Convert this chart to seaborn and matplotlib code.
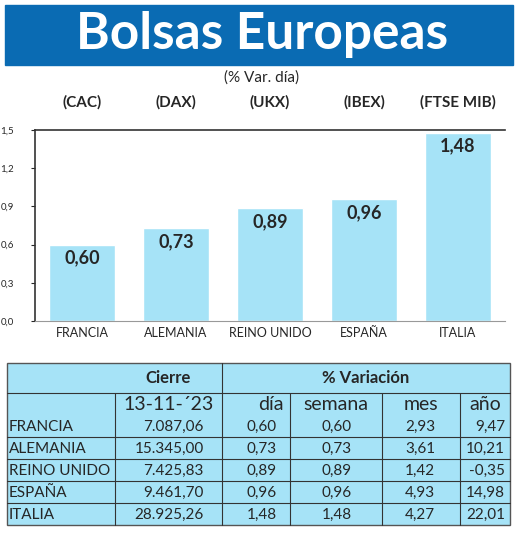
import matplotlib
matplotlib.use("Agg")
import matplotlib.pyplot as plt
import seaborn as sns
import pandas as pd
from matplotlib.patches import Rectangle

# datos
paises = ["FRANCIA", "ALEMANIA", "REINO UNIDO", "ESPAÑA", "ITALIA"]
indices = ["(CAC)", "(DAX)", "(UKX)", "(IBEX)", "(FTSE MIB)"]
var_dia = [0.60, 0.73, 0.89, 0.96, 1.48]
cierre = ["7.087,06", "15.345,00", "7.425,83", "9.461,70", "28.925,26"]
var_semana = ["0,60", "0,73", "0,89", "0,96", "1,48"]
var_mes = ["2,93", "3,61", "1,42", "4,93", "4,27"]
var_anio = ["9,47", "10,21", "-0,35", "14,98", "22,01"]

sns.set_style("white")
plt.rcParams["font.family"] = ["Lato", "DejaVu Sans"]

W, H = 520, 546
fig = plt.figure(figsize=(W / 100, H / 100), dpi=100)

def fx(px):
    return px / W

def fy(py):
    return 1 - py / H

# cabecera
fig.patches.append(Rectangle((fx(5), fy(65)), fx(508), 60 / H, transform=fig.transFigure,
                             color="#0a6bb3", zorder=0))
fig.text(fx(262), fy(35), "Bolsas Europeas", color="white", fontsize=37, fontweight="bold",
         ha="center", va="center")
fig.text(fx(262), fy(78), "(% Var. día)", fontsize=11, ha="center", va="center")

# gráfico
ax = fig.add_axes([fx(35), fy(321), fx(470), 191 / H])
df = pd.DataFrame({"pais": paises, "valor": var_dia})
sns.barplot(data=df, x="pais", y="valor", color="#a6e3f7", width=0.7, saturation=1, ax=ax)
for i, v in enumerate(var_dia):
    ax.text(i, v - 0.04, f"{v:.2f}".replace(".", ","), ha="center", va="top",
            fontsize=13, fontweight="bold")
    ax.text(i, 1.72, indices[i], ha="center", va="center", fontsize=11, fontweight="bold")
ax.set_ylim(0, 1.5)
ax.set_yticks([0, 0.3, 0.6, 0.9, 1.2, 1.5])
ax.set_yticklabels(["0,0", "0,3", "0,6", "0,9", "1,2", "1,5"], fontsize=7)
ax.set_xlabel("")
ax.set_ylabel("")
ax.tick_params(axis="x", labelsize=9, length=0, pad=4)
ax.tick_params(axis="y", length=3, left=True, pad=12)
for s in ["left", "top"]:
    ax.spines[s].set_color("#333333")
    ax.spines[s].set_linewidth(1.2)
ax.spines["right"].set_visible(False)
ax.spines["bottom"].set_color("#999999")

# tabla
x0, x1 = 7, 510
cols = [7, 115, 222, 290, 382, 460, 510]
rows = [363, 393, 415, 437, 459, 481, 503, 525]
fig.patches.append(Rectangle((fx(x0), fy(525)), fx(x1 - x0), (525 - 363) / H,
                             transform=fig.transFigure, facecolor="#a6e3f7",
                             edgecolor="#555555", lw=1))
def hline(y, a, b, c="#333333"):
    fig.add_artist(plt.Line2D([fx(a), fx(b)], [fy(y), fy(y)], color=c, lw=0.8))
def vline(x, a, b):
    fig.add_artist(plt.Line2D([fx(x), fx(x)], [fy(a), fy(b)], color="#333333", lw=0.8))
hline(393, x0, x1)
for y in rows[3:-1]:
    hline(y, x0, x1)
vline(222, 363, 525)
vline(115, 393, 525)
for c in cols[3:-1]:
    vline(c, 393, 525)

fig.text(fx(168), fy(378), "Cierre", fontsize=12, fontweight="bold", ha="center", va="center")
fig.text(fx(366), fy(378), "% Variación", fontsize=12, fontweight="bold", ha="center", va="center")
fig.text(fx(cols[2] - 8), fy(405), "13-11-´23", fontsize=14, ha="right", va="center")
fig.text(fx(cols[3] - 6), fy(405), "día", fontsize=14, ha="right", va="center")
for j, h in enumerate(["semana", "mes", "año"]):
    fig.text(fx((cols[j + 3] + cols[j + 4]) / 2), fy(405), h, fontsize=14, ha="center", va="center")
for i in range(5):
    yc = (rows[i + 2] + rows[i + 3]) / 2 + 1
    vals = [cierre[i], f"{var_dia[i]:.2f}".replace(".", ","), var_semana[i], var_mes[i], var_anio[i]]
    fig.text(fx(9), fy(yc), paises[i], fontsize=11, ha="left", va="center")
    xs = [cols[2] - 18, cols[3] - 13, cols[4] - 30, cols[5] - 25, cols[6] - 5]
    for j, v in enumerate(vals):
        fig.text(fx(xs[j]), fy(yc), v, fontsize=11, ha="right", va="center")

fig.savefig("out.png", dpi=100)
